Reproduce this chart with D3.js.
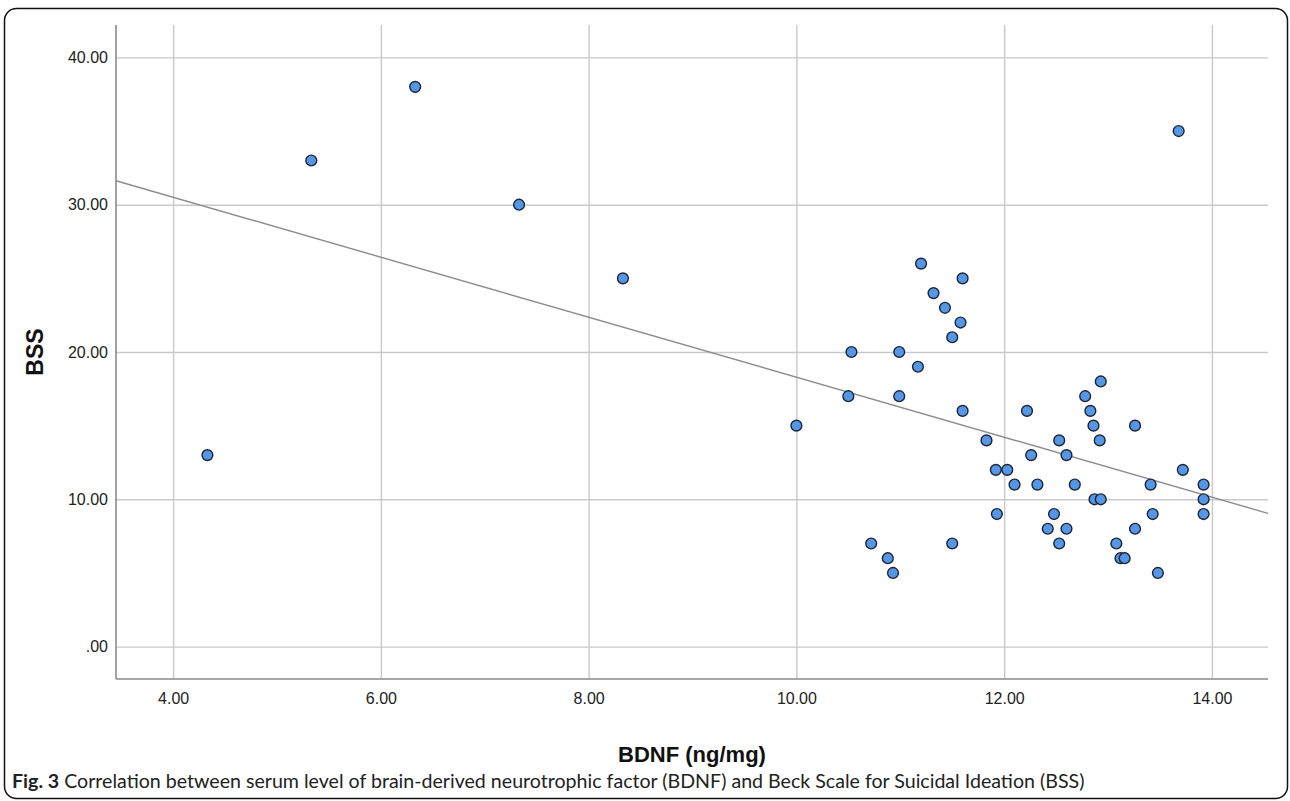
<!DOCTYPE html>
<html>
<head>
<meta charset="utf-8">
<script src="https://cdn.jsdelivr.net/npm/d3@7"></script>
<style>
  body { margin: 0; background: #fff; }
  svg { display: block; }
</style>
</head>
<body>
<svg id="chart" width="1290" height="801"></svg>
<script>
// Data: BDNF (ng/mg) vs BSS score
const bdnf = [
  4.33, 5.33, 6.33, 7.33, 8.33, 10.00, 10.53, 10.50, 11.20, 11.60,
  11.32, 11.43, 11.58, 11.50, 10.99, 11.17, 10.99, 11.60, 12.22, 11.83,
  12.53, 12.93, 12.78, 12.83, 12.86, 13.26, 12.92, 12.26, 12.60, 13.72,
  11.92, 12.03, 12.10, 12.32, 12.68, 13.41, 13.92, 12.87, 12.93, 13.92,
  11.93, 12.48, 13.43, 13.92, 12.42, 12.60, 13.26, 10.72, 11.50, 12.53,
  13.08, 10.88, 13.12, 13.16, 10.93, 13.48, 13.68
];
const bss = [
  13, 33, 38, 30, 25, 15, 20, 17, 26, 25,
  24, 23, 22, 21, 20, 19, 17, 16, 16, 14,
  14, 18, 17, 16, 15, 15, 14, 13, 13, 12,
  12, 12, 11, 11, 11, 11, 11, 10, 10, 10,
  9, 9, 9, 9, 8, 8, 8, 7, 7, 7,
  7, 6, 6, 6, 5, 5, 35
];
// fit line as drawn in the figure (intercept, slope)
const fitLine = { intercept: 38.65, slope: -2.036 };

const xTicks = [4, 6, 8, 10, 12, 14];
const yTicks = [0, 10, 20, 30, 40];
const xLabel = "BDNF (ng/mg)";
const yLabel = "BSS";
const captionBold = "Fig. 3";
const captionText = " Correlation between serum level of brain-derived neurotrophic factor (BDNF) and Beck Scale for Suicidal Ideation (BSS)";

const svg = d3.select("#chart");

// figure frame
svg.append("rect")
  .attr("x", 4.5).attr("y", 8.5)
  .attr("width", 1283).attr("height", 790)
  .attr("rx", 12).attr("ry", 12)
  .attr("fill", "none")
  .attr("stroke", "#111")
  .attr("stroke-width", 1.5);

const margin = { top: 25, left: 116 };
const width = 1268 - 116;
const height = 679 - 25;
const g = svg.append("g").attr("transform", `translate(${margin.left},${margin.top})`);

const x = d3.scaleLinear().domain([3.45, 14.54]).range([0, width]);
const y = d3.scaleLinear().domain([-2.2, 42.2]).range([height, 0]);

const fmt = v => d3.format(".2f")(v).replace(/^0\./, ".");

// x axis with vertical grid
const xAxis = g.append("g")
  .attr("transform", `translate(0,${height})`)
  .call(d3.axisBottom(x).tickValues(xTicks).tickFormat(fmt)
    .tickSize(-height).tickSizeOuter(0).tickPadding(14));

// y axis with horizontal grid
const yAxis = g.append("g")
  .call(d3.axisLeft(y).tickValues(yTicks).tickFormat(fmt)
    .tickSize(-width).tickSizeOuter(0).tickPadding(8));

[xAxis, yAxis].forEach(a => {
  a.selectAll(".tick line").attr("stroke", "#c9c9c9").attr("stroke-width", 1.4);
  a.selectAll(".tick text")
    .attr("fill", "#222")
    .style("font-family", "'Liberation Sans', Arial, sans-serif")
    .style("font-size", "16px");
  a.select(".domain").remove();
});

// axis lines on top of grid
g.append("line")
  .attr("x1", 0).attr("x2", 0).attr("y1", 0).attr("y2", height)
  .attr("stroke", "#8a8a8a").attr("stroke-width", 1.6);
g.append("line")
  .attr("x1", 0).attr("x2", width).attr("y1", height).attr("y2", height)
  .attr("stroke", "#8a8a8a").attr("stroke-width", 1.6);

// fit line
const [x0, x1] = x.domain();
g.append("line")
  .attr("x1", x(x0)).attr("y1", y(fitLine.intercept + fitLine.slope * x0))
  .attr("x2", x(x1)).attr("y2", y(fitLine.intercept + fitLine.slope * x1))
  .attr("stroke", "#8c8c8c").attr("stroke-width", 1.4);

// points
const points = bdnf.map((d, i) => ({ x: d, y: bss[i] }));
g.selectAll(".dot")
  .data(points)
  .enter().append("circle")
  .attr("class", "dot")
  .attr("cx", d => x(d.x))
  .attr("cy", d => y(d.y))
  .attr("r", 5.4)
  .attr("fill", "#5596e6")
  .attr("stroke", "#1c2633")
  .attr("stroke-width", 1.4);

// axis titles
svg.append("text")
  .attr("x", margin.left + width / 2).attr("y", 762)
  .attr("text-anchor", "middle")
  .style("font-family", "'Liberation Sans', Arial, sans-serif")
  .style("font-size", "22px").style("font-weight", "bold")
  .attr("fill", "#111")
  .text(xLabel);

svg.append("text")
  .attr("transform", `translate(43,${margin.top + height / 2}) rotate(-90)`)
  .attr("text-anchor", "middle")
  .style("font-family", "'Liberation Sans', Arial, sans-serif")
  .style("font-size", "23px").style("font-weight", "bold")
  .attr("fill", "#111")
  .text(yLabel);

// caption
const cap = svg.append("text")
  .attr("x", 12).attr("y", 788)
  .style("font-family", "Lato, 'Open Sans', sans-serif")
  .style("font-size", "19.6px")
  .attr("fill", "#222");
cap.append("tspan").style("font-weight", "bold").text(captionBold);
cap.append("tspan").text(captionText);
</script>
</body>
</html>
